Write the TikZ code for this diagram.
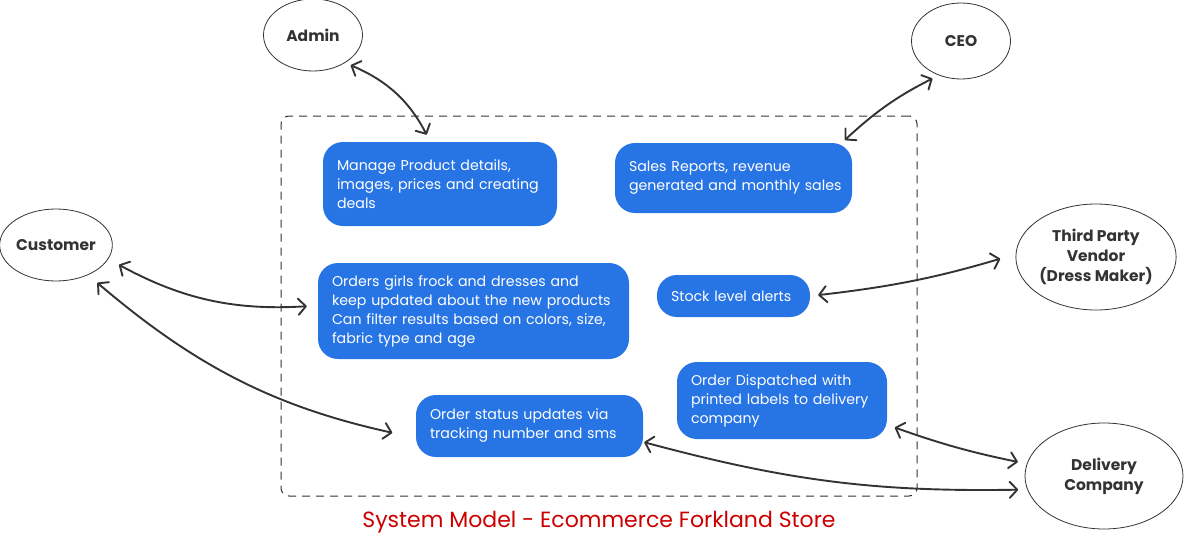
\documentclass[tikz,border=0pt]{standalone}
\usepackage{fontspec}
\setmainfont{Poppins}
\usetikzlibrary{shapes.geometric,arrows.meta}
\definecolor{boxblue}{RGB}{39,116,229}
\definecolor{ink}{RGB}{51,51,51}
\definecolor{titlered}{RGB}{204,0,0}
\newcommand{\oneline}[1]{\mbox{#1}}
\begin{document}
\begin{tikzpicture}[x=1pt,y=-1pt,
  actor/.style={ellipse,draw=ink,line width=0.8pt,inner sep=0pt,align=center,
    font=\fontsize{15.5}{20}\selectfont\bfseries,text=ink},
  task/.style={rectangle,rounded corners=20pt,fill=boxblue,text=white,align=left,
    inner xsep=14pt,inner ysep=0pt,font=\fontsize{14.2}{19}\selectfont},
  link/.style={draw=ink,line width=1.9pt,{Straight Barb[length=7.5pt,width=16pt,round]}-{Straight Barb[length=7.5pt,width=16pt,round]}},
]
\useasboundingbox (0,0) rectangle (1184,538);
\fill[white] (0,0) rectangle (1184,538);

\node[draw=ink,line width=1pt,dash pattern=on 8pt off 6pt,rounded corners=8pt,
  minimum width=636pt,minimum height=380pt] (system) at (599,306) {};

\node[actor,minimum width=99pt,minimum height=72pt] (admin) at (313,35) {Admin};
\node[actor,minimum width=99pt,minimum height=76pt] (ceo) at (961,41) {CEO};
\node[actor,minimum width=112pt,minimum height=72pt] (customer) at (56,245) {Customer};
\node[actor,minimum width=159pt,minimum height=106pt] (vendor) at (1096,257) {Third Party\\Vendor\\(Dress Maker)};
\node[actor,minimum width=158pt,minimum height=106pt] (delivery) at (1104,476) {Delivery\\Company};

\node[task,text width=206pt,minimum height=84pt] (manage) at (440,184)
  {\oneline{Manage Product details,}\\\oneline{images, prices and creating}\\\oneline{deals}};
\node[task,text width=209pt,minimum height=70pt] (sales) at (733.5,178)
  {\oneline{Sales Reports, revenue}\\\oneline{generated and monthly sales}};
\node[task,text width=283pt,minimum height=96pt] (orders) at (473.5,311)
  {\oneline{Orders girls frock and dresses and}\\\oneline{keep updated about the new products}\\\oneline{Can filter results based on colors, size,}\\\oneline{fabric type and age}};
\node[task,text width=125pt,minimum height=42pt] (stock) at (733.5,296)
  {\oneline{Stock level alerts}};
\node[task,text width=182pt,minimum height=77pt] (dispatch) at (782,400.5)
  {\oneline{Order Dispatched with}\\\oneline{printed labels to delivery}\\\oneline{company}};
\node[task,text width=199pt,minimum height=62pt] (status) at (529.5,426)
  {\oneline{Order status updates via}\\\oneline{tracking number and sms}};

\node[text=titlered,font=\fontsize{22}{24}\selectfont] (title) at (599,522)
  {System Model - Ecommerce Forkland Store};

\draw[link,shorten <=6pt,shorten >=8pt] (admin.-41) to[bend left=20] (manage.103);
\draw[link,shorten <=4pt,shorten >=7pt] (sales.18) to[bend left=8] (ceo.-123);
\draw[link,shorten <=12pt,shorten >=11pt] (customer.-15) to[bend right=16] (orders.178);
\draw[link,shorten <=12pt,shorten >=24pt] (customer.-43) to[bend right=14] (status.-174);
\draw[link,shorten <=8pt,shorten >=16pt] (stock.east) to[bend right=5] (vendor.178);
\draw[link,shorten <=1pt,shorten >=9pt] (status.-8) to[bend right=8] (delivery.-170);
\draw[link,shorten <=8pt,shorten >=9pt] (dispatch.-13) to[bend right=4] (delivery.171);
\end{tikzpicture}
\end{document}
